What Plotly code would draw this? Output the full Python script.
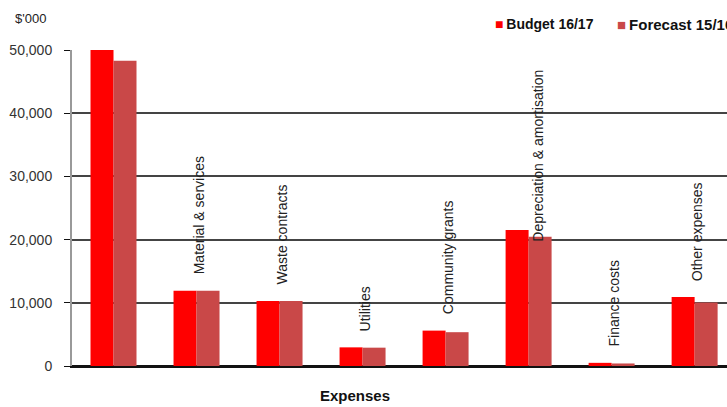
import plotly.graph_objects as go

# Expense categories and values ($'000)
categories = [
    "Employee costs",
    "Material & services",
    "Waste contracts",
    "Utilities",
    "Community grants",
    "Depreciation & amortisation",
    "Finance costs",
    "Other expenses",
]
budget_16_17 = [50000, 11900, 10300, 2950, 5600, 21500, 500, 10900]
forecast_15_16 = [48300, 11900, 10300, 2900, 5350, 20450, 400, 10050]
y_ticks = [0, 10000, 20000, 30000, 40000, 50000]

series_names = ["Budget 16/17", "Forecast 15/16"]
BUDGET_RED = "#FF0000"
FORECAST_RED = "#C94848"
FONT = "Liberation Sans, Arial, sans-serif"
Y_MAX = 50000

fig = go.Figure()
fig.add_trace(go.Bar(x=categories, y=budget_16_17, name=series_names[0],
                     marker=dict(color=BUDGET_RED, line=dict(width=0)),
                     showlegend=False))
fig.add_trace(go.Bar(x=categories, y=forecast_15_16, name=series_names[1],
                     marker=dict(color=FORECAST_RED, line=dict(width=0)),
                     showlegend=False))

# Rotated category names above each bar pair (only where they fit under the top)
label_nudge = {"Depreciation & amortisation": (10, -28)}
for cat, b, f in zip(categories, budget_16_17, forecast_15_16):
    top = max(b, f)
    if top >= Y_MAX:
        continue
    dx, dy = label_nudge.get(cat, (2, 0))
    fig.add_annotation(x=cat, y=top, xref="x", yref="y", text=cat,
                       textangle=-90, showarrow=False, xanchor="center",
                       yanchor="bottom", xshift=dx, yshift=14 + dy,
                       font=dict(family=FONT, size=14, color="#222"))

# Legend drawn as coloured squares with bold labels
legend_items = [(series_names[0], BUDGET_RED, 0.643, 14),
                (series_names[1], FORECAST_RED, 0.829, 15)]
for name, color, xpos, size in legend_items:
    fig.add_annotation(x=xpos, y=1.082, xref="paper", yref="paper",
                       text=f"<span style='color:{color}'>■</span>\u2009<b>{name}</b>",
                       showarrow=False, xanchor="left", yanchor="middle",
                       font=dict(family=FONT, size=size, color="#111"))

# Unit label and axis title
fig.add_annotation(x=-0.09, y=1.101, xref="paper", yref="paper", text="$'000",
                   showarrow=False, xanchor="left", yanchor="middle",
                   font=dict(family=FONT, size=13, color="#222"))
fig.add_annotation(x=0.432, y=-0.092, xref="paper", yref="paper", text="<b>Expenses</b>",
                   showarrow=False, xanchor="center", yanchor="middle",
                   font=dict(family=FONT, size=15, color="#111"))

fig.update_layout(
    width=727, height=407, autosize=False,
    margin=dict(l=72, r=0, t=50, b=41),
    paper_bgcolor="white", plot_bgcolor="white",
    barmode="group", bargap=0.446, bargroupgap=0,
    font=dict(family=FONT, size=14, color="#333"),
)
fig.update_xaxes(range=[-0.5, 7.39], showticklabels=False, showgrid=False,
                 showline=True, linecolor="#111", linewidth=1.5, ticks="")
fig.update_yaxes(range=[0, Y_MAX], tickvals=y_ticks, tickformat=",d",
                 showgrid=True, gridcolor="#444", gridwidth=1.5,
                 zeroline=True, zerolinecolor="#111", zerolinewidth=1.5,
                 showline=True, linecolor="#999", linewidth=2,
                 ticks="outside", ticklen=6, tickcolor="#111",
                 ticklabelstandoff=9,
                 tickfont=dict(family=FONT, size=14, color="#333"))

fig.write_html("out.html")
